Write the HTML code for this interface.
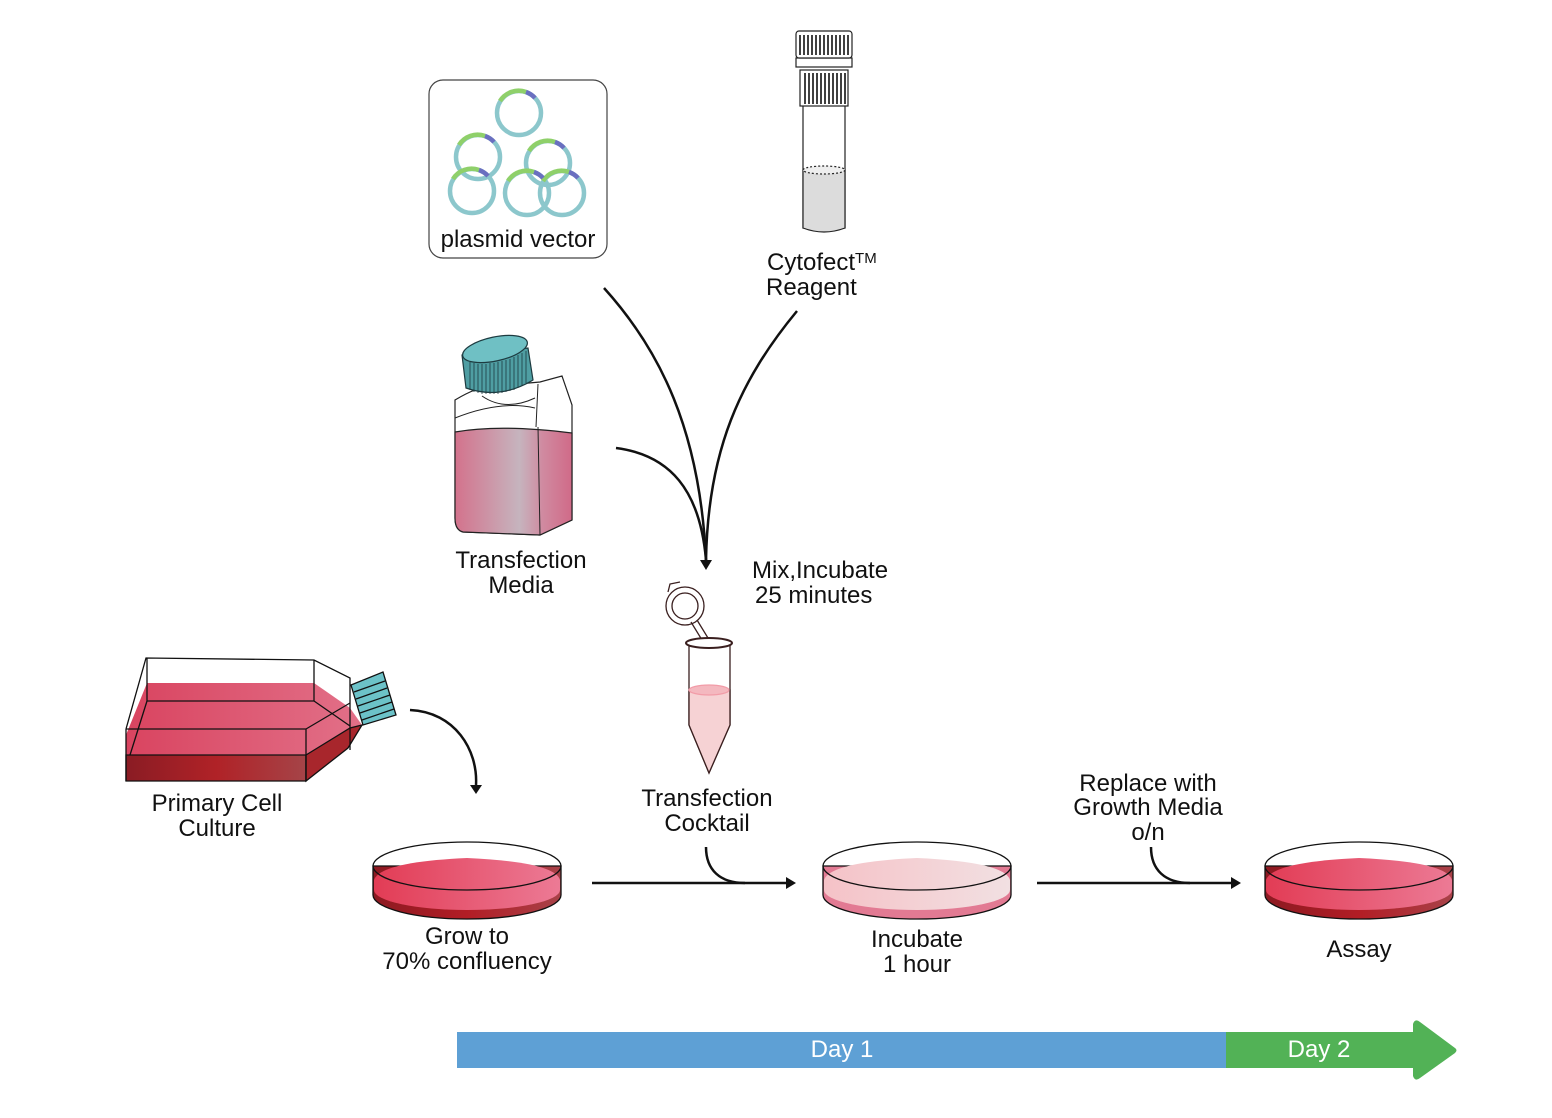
<!DOCTYPE html>
<html><head><meta charset="utf-8"><style>
html,body{margin:0;padding:0;background:#fff;}
svg{display:block;}
text{font-family:"Liberation Sans",sans-serif;font-size:24px;fill:#111;}
</style></head><body>
<svg width="1552" height="1118" viewBox="0 0 1552 1118" xmlns="http://www.w3.org/2000/svg">
<defs>
<linearGradient id="dishR" x1="0" x2="1"><stop offset="0" stop-color="#e23c55"/><stop offset="1" stop-color="#ec7a95"/></linearGradient>
<linearGradient id="dishD" x1="0" x2="1"><stop offset="0" stop-color="#8c1a22"/><stop offset="0.5" stop-color="#b21d25"/><stop offset="1" stop-color="#a84249"/></linearGradient>
<linearGradient id="dishP" x1="0" x2="1"><stop offset="0" stop-color="#f5c2c7"/><stop offset="1" stop-color="#f2e0e2"/></linearGradient>
<linearGradient id="bot" x1="0" x2="1"><stop offset="0" stop-color="#d3728c"/><stop offset="0.55" stop-color="#c6b4be"/><stop offset="0.75" stop-color="#d08aa0"/><stop offset="1" stop-color="#d06a88"/></linearGradient>
<linearGradient id="flaskT" x1="0" x2="1"><stop offset="0" stop-color="#d94460"/><stop offset="1" stop-color="#e27088"/></linearGradient>
<linearGradient id="flaskF" x1="0" x2="1"><stop offset="0" stop-color="#8a1c24"/><stop offset="0.5" stop-color="#b02227"/><stop offset="1" stop-color="#a54448"/></linearGradient>
</defs>

<!-- plasmid box -->
<rect x="429" y="80" width="178" height="178" rx="14" fill="#fff" stroke="#444" stroke-width="1.2"/>
<g fill="none" stroke-width="4.5">
<g stroke="#8cc7cc">
<circle cx="519" cy="113" r="22"/><circle cx="478" cy="157" r="22"/><circle cx="548" cy="163" r="22"/>
<circle cx="472" cy="191" r="22"/><circle cx="527" cy="193" r="22"/><circle cx="562" cy="193" r="22"/>
</g>
<g stroke="#8fd06a">
<path d="M500,101 A22,22 0 0 1 526,92"/><path d="M459,145 A22,22 0 0 1 485,136"/><path d="M529,151 A22,22 0 0 1 555,142"/>
<path d="M453,179 A22,22 0 0 1 479,170"/><path d="M508,181 A22,22 0 0 1 534,172"/><path d="M543,181 A22,22 0 0 1 569,172"/>
</g>
<g stroke="#6a6fc0">
<path d="M526,92 A22,22 0 0 1 535,98"/><path d="M485,136 A22,22 0 0 1 494,142"/><path d="M555,142 A22,22 0 0 1 564,148"/>
<path d="M479,170 A22,22 0 0 1 488,176"/><path d="M534,172 A22,22 0 0 1 543,178"/><path d="M569,172 A22,22 0 0 1 578,178"/>
</g></g>
<text x="518" y="247" text-anchor="middle">plasmid vector</text>

<!-- cytofect tube -->
<g stroke="#222" stroke-width="1.2">
<rect x="803" y="100" width="42" height="128" fill="#fff"/>
<path d="M803,170 L845,170 L845,228 Q824,236 803,228 Z" fill="#dcdcdc"/>
<ellipse cx="824" cy="170" rx="21" ry="4" fill="#eee" stroke-dasharray="2,2"/>
<rect x="800" y="70" width="48" height="36" fill="#fff"/>
<rect x="796" y="58" width="56" height="9" fill="#fff"/>
<rect x="796" y="31" width="56" height="27" rx="3" fill="#fff"/>
</g>
<g stroke="#111" stroke-width="1.6">
<path d="M800,35V55M804,35V55M808,35V55M812,35V55M816,35V55M820,35V55M824,35V55M828,35V55M832,35V55M836,35V55M840,35V55M844,35V55M848,35V55"/>
<path d="M805,73V104M809,73V104M813,73V104M817,73V104M821,73V104M825,73V104M829,73V104M833,73V104M837,73V104M841,73V104M845,73V104"/>
</g>
<text x="767" y="270">Cytofect<tspan font-size="15" dy="-7">TM</tspan></text>
<text x="766" y="295">Reagent</text>

<!-- converging curves -->
<g fill="none" stroke="#111" stroke-width="2.5">
<path d="M604,288 C660,350 700,430 706,560"/>
<path d="M797,311 C740,380 708,450 706,560"/>
<path d="M616,448 C670,455 700,490 706,560" />
</g>
<path d="M700,560 L712,560 L706,570 Z" fill="#111"/>

<!-- media bottle -->
<path d="M455,400 Q480,385 495,386 L540,382 L562,376 L572,405 L572,520 L540,535 L463,532 Q455,530 455,518 Z" fill="#fff" stroke="#222" stroke-width="1.2"/>
<path d="M455,432 Q500,424 572,433 L572,520 L540,535 L463,532 Q455,530 455,518 Z" fill="url(#bot)" stroke="#222" stroke-width="1.2"/>
<path d="M538,384 L536,427 M538,427 L540,535 M455,418 Q500,400 535,408 M482,396 Q505,412 535,398" fill="none" stroke="#222" stroke-width="1"/>
<g stroke="#1d3b40" stroke-width="1.2">
<path d="M462,355 L466,388 Q500,400 533,380 L528,348 Z" fill="#4f9ea3"/>
<ellipse cx="495" cy="349" rx="33" ry="12" transform="rotate(-12 495 349)" fill="#6fc0c4"/>
</g>
<g stroke="#1d3b40" stroke-width="0.8"><path d="M470,362V390M474,363V392M478,364V393M482,364V394M486,364V394M490,363V394M494,363V394M498,362V394M502,361V393M506,360V392M510,359V391M514,357V390M518,355V388M522,353V386M526,351V383"/></g>
<text x="521" y="568" text-anchor="middle">Transfection</text>
<text x="521" y="593" text-anchor="middle">Media</text>

<text x="752" y="578">Mix,Incubate</text>
<text x="755" y="603">25 minutes</text>

<!-- microtube -->
<g stroke="#3a1f1f" stroke-width="1.3">
<circle cx="685" cy="606" r="19" fill="#fff"/>
<circle cx="685" cy="606" r="13" fill="#fff"/>
<path d="M668,592 L670,584 L680,582 M691,622 L702,640 M697,620 L708,638" fill="none"/>
<path d="M689,645 L689,725 L709,773 L730,725 L730,645" fill="#fff"/>
<path d="M689,690 L730,690 L730,725 L709,773 L689,725 Z" fill="#f6d2d4"/>
<ellipse cx="709" cy="690" rx="20" ry="5" fill="#f4b8bf" stroke="#f29ca8"/>
<ellipse cx="709" cy="643" rx="23" ry="5" fill="#fff" stroke-width="2"/>
</g>
<text x="707" y="806" text-anchor="middle">Transfection</text>
<text x="707" y="831" text-anchor="middle">Cocktail</text>

<!-- flask -->
<g stroke="#111" stroke-width="1.3">
<path d="M126,755 L126,735 L147,683 L314,683 L350,708 L362,725 L348,748 L306,781 L126,781 Z" fill="url(#flaskT)" stroke="none"/>
<path d="M126,755 L306,755 L306,781 L126,781 Z" fill="url(#flaskF)"/>
<path d="M306,755 L350,728 L362,725 L348,748 L306,781 Z" fill="#a8262c"/>
<path d="M126,729 L146,658 L314,660 L350,678 L350,750 M126,729 L306,729 L306,781 M306,729 L350,703 M147,658 L147,701 L314,701 L350,726 M314,660 L314,701 M130,755 L147,701" fill="none"/>
<path d="M126,729 L126,781" fill="none"/>
<path d="M351,685 L383,672 L396,715 L363,725 Z" fill="#6cc2c8"/>
<path d="M354,692L385,681M356,699L387,688M358,706L390,695M360,713L392,702M362,720L394,709" fill="none"/>
</g>
<text x="217" y="811" text-anchor="middle">Primary Cell</text>
<text x="217" y="836" text-anchor="middle">Culture</text>
<path d="M410,710 C455,712 478,750 476,785" fill="none" stroke="#111" stroke-width="2.5"/>
<path d="M470,785 L482,785 L476,794 Z" fill="#111"/>

<!-- dishes -->
<g stroke="#111" stroke-width="1.3">
<path d="M373,866 L373,895 A94,24 0 0 0 561,895 L561,866 Z" fill="url(#dishD)"/>
<path d="M374,880 Q380,862 467,858 Q555,862 560,880 L560,890 A93,20 0 0 1 374,890 Z" fill="url(#dishR)" stroke="none"/>
<ellipse cx="467" cy="866" rx="94" ry="24" fill="none"/>
</g>
<text x="467" y="944" text-anchor="middle">Grow to</text>
<text x="467" y="969" text-anchor="middle">70% confluency</text>

<g stroke="#111" stroke-width="1.3">
<path d="M823,866 L823,895 A94,24 0 0 0 1011,895 L1011,866 Z" fill="#e27a93"/>
<path d="M824,880 Q830,862 917,858 Q1005,862 1010,880 L1010,890 A93,20 0 0 1 824,890 Z" fill="url(#dishP)" stroke="none"/>
<ellipse cx="917" cy="866" rx="94" ry="24" fill="none"/>
</g>
<text x="917" y="947" text-anchor="middle">Incubate</text>
<text x="917" y="972" text-anchor="middle">1 hour</text>

<g stroke="#111" stroke-width="1.3">
<path d="M1265,866 L1265,895 A94,24 0 0 0 1453,895 L1453,866 Z" fill="url(#dishD)"/>
<path d="M1266,880 Q1272,862 1359,858 Q1447,862 1452,880 L1452,890 A93,20 0 0 1 1266,890 Z" fill="url(#dishR)" stroke="none"/>
<ellipse cx="1359" cy="866" rx="94" ry="24" fill="none"/>
</g>
<text x="1359" y="957" text-anchor="middle">Assay</text>

<!-- horizontal arrows -->
<g fill="none" stroke="#111" stroke-width="2.5">
<path d="M592,883 L788,883"/><path d="M706,847 C706,870 720,883 745,883"/>
<path d="M1037,883 L1233,883"/><path d="M1151,847 C1151,870 1165,883 1190,883"/>
</g>
<path d="M786,877 L796,883 L786,889 Z" fill="#111"/>
<path d="M1231,877 L1241,883 L1231,889 Z" fill="#111"/>
<text x="1148" y="791" text-anchor="middle">Replace with</text>
<text x="1148" y="815" text-anchor="middle">Growth Media</text>
<text x="1148" y="840" text-anchor="middle">o/n</text>

<!-- timeline -->
<rect x="457" y="1032" width="769" height="36" fill="#5ea0d5"/>
<path d="M1226,1032 L1413,1032 L1413,1024 Q1415,1018 1420,1022 L1455,1048 Q1458,1050 1455,1053 L1420,1078 Q1415,1082 1413,1076 L1413,1068 L1226,1068 Z" fill="#52b256"/>
<text x="842" y="1057" text-anchor="middle" style="fill:#fff;font-size:24px">Day 1</text>
<text x="1319" y="1057" text-anchor="middle" style="fill:#fff;font-size:24px">Day 2</text>
</svg>
</body></html>
